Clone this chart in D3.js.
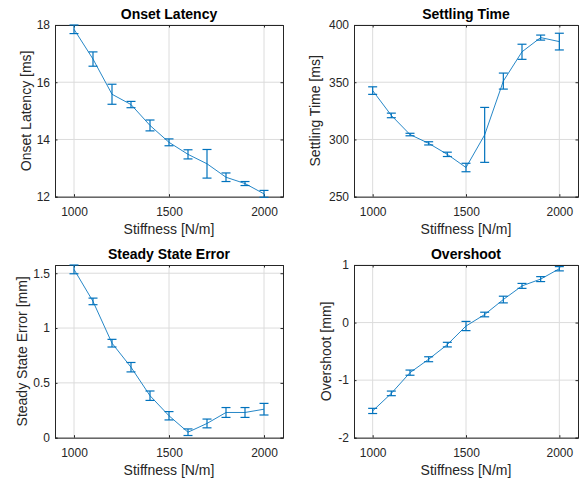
<!DOCTYPE html>
<html>
<head>
<meta charset="utf-8">
<script src="https://cdn.jsdelivr.net/npm/d3@7/dist/d3.min.js"></script>
<style>
  html, body { margin: 0; padding: 0; background: #fff; }
  svg { display: block; font-family: "Liberation Sans", Arial, sans-serif; }
</style>
</head>
<body>
<svg id="chart" width="583" height="484"></svg>
<script>
// Stiffness levels shared by all four panels
const stiffness = [1000, 1100, 1200, 1300, 1400, 1500, 1600, 1700, 1800, 1900, 2000];
const xTicks = [1000, 1500, 2000];

// Onset latency [ms]: mean and error half-width
const onsetLatency    = [17.85, 16.81, 15.58, 15.22, 14.49, 13.90, 13.48, 13.15, 12.68, 12.46, 12.10];
const onsetLatencyErr = [0.15, 0.25, 0.35, 0.11, 0.19, 0.12, 0.16, 0.50, 0.15, 0.07, 0.12];
const onsetTicks = [12, 14, 16, 18];

// Settling time [ms]
const settlingTime    = [342.7, 321.0, 304.3, 296.6, 287.0, 275.5, 304.0, 351.0, 376.6, 389.0, 385.5];
const settlingTimeErr = [3.3, 2.0, 1.1, 1.4, 1.9, 3.7, 24.0, 7.0, 6.6, 2.2, 7.3];
const settlingTicks = [250, 300, 350, 400];

// Steady state error [mm]
const steadyError    = [1.535, 1.243, 0.862, 0.643, 0.383, 0.200, 0.050, 0.130, 0.230, 0.230, 0.260];
const steadyErrorErr = [0.040, 0.030, 0.035, 0.043, 0.043, 0.038, 0.030, 0.040, 0.045, 0.045, 0.053];
const steadyTicks = [0, 0.5, 1, 1.5];

// Overshoot [mm]
const overshoot    = [-1.535, -1.230, -0.870, -0.637, -0.383, -0.060, 0.140, 0.400, 0.637, 0.755, 0.935];
const overshootErr = [0.045, 0.040, 0.045, 0.043, 0.040, 0.080, 0.040, 0.058, 0.043, 0.043, 0.037];
const overshootTicks = [-2, -1, 0, 1];

const panels = [
  { title: "Onset Latency", ylabel: "Onset Latency [ms]", y: onsetLatency, err: onsetLatencyErr,
    yDomain: [12, 18], yTicks: onsetTicks, box: [55, 25, 228, 171.7], ylabelGap: 24 },
  { title: "Settling Time", ylabel: "Settling Time [ms]", y: settlingTime, err: settlingTimeErr,
    yDomain: [250, 400], yTicks: settlingTicks, box: [354, 25, 224, 171.7], ylabelGap: 34 },
  { title: "Steady State Error", ylabel: "Steady State Error [mm]", y: steadyError, err: steadyErrorErr,
    yDomain: [0, 1.575], yTicks: steadyTicks, box: [55, 265, 228, 172.7], ylabelGap: 28 },
  { title: "Overshoot", ylabel: "Overshoot [mm]", y: overshoot, err: overshootErr,
    yDomain: [-2, 1], yTicks: overshootTicks, box: [354, 265, 224, 172.7], ylabelGap: 23 }
];

const ink = "#262626";
const blue = "#0072BD";
const svg = d3.select("#chart");

panels.forEach(p => {
  const [left, top, w, h] = p.box;
  const g = svg.append("g").attr("transform", `translate(${left},${top})`);
  const x = d3.scaleLinear().domain([900, 2100]).range([0, w]);
  const y = d3.scaleLinear().domain(p.yDomain).range([h, 0]);

  // grid
  g.append("g").selectAll("line.gx").data(xTicks).join("line")
    .attr("x1", d => x(d)).attr("x2", d => x(d)).attr("y1", 0).attr("y2", h)
    .attr("stroke", "#dcdcdc").attr("stroke-width", 1);
  g.append("g").selectAll("line.gy").data(p.yTicks).join("line")
    .attr("y1", d => y(d)).attr("y2", d => y(d)).attr("x1", 0).attr("x2", w)
    .attr("stroke", "#dcdcdc").attr("stroke-width", 1);

  // axes with inward ticks
  const tickLen = 2.5;
  const xAxis = g.append("g").attr("transform", `translate(0,${h})`)
    .call(d3.axisBottom(x).tickValues(xTicks).tickSize(-tickLen).tickPadding(11).tickFormat(d3.format("d")));
  const xTop = g.append("g")
    .call(d3.axisTop(x).tickValues(xTicks).tickSize(-tickLen).tickFormat(""));
  const fmt = v => String(v);
  const yAxis = g.append("g")
    .call(d3.axisLeft(y).tickValues(p.yTicks).tickSize(-tickLen).tickPadding(5).tickFormat(fmt));
  const yRight = g.append("g").attr("transform", `translate(${w},0)`)
    .call(d3.axisRight(y).tickValues(p.yTicks).tickSize(-tickLen).tickFormat(""));
  [xAxis, xTop, yAxis, yRight].forEach(a => {
    a.select(".domain").attr("stroke", ink).attr("stroke-width", 1);
    a.selectAll(".tick line").attr("stroke", ink);
    a.selectAll(".tick text").attr("fill", ink).style("font-size", "12px")
      .style("font-family", '"Liberation Sans", Arial, sans-serif');
  });

  // connecting line
  const pts = stiffness.map((s, i) => ({ s, v: p.y[i], e: p.err[i] }));
  g.append("path").datum(pts)
    .attr("d", d3.line().x(d => x(d.s)).y(d => y(d.v)))
    .attr("fill", "none").attr("stroke", blue).attr("stroke-width", 1).attr("opacity", 0.85);

  // error bars
  const cap = 4.5;
  const eb = g.append("g").attr("stroke", blue).attr("stroke-width", 1.2).attr("fill", "none");
  eb.selectAll("line.v").data(pts).join("line")
    .attr("x1", d => x(d.s)).attr("x2", d => x(d.s))
    .attr("y1", d => y(d.v - d.e)).attr("y2", d => y(d.v + d.e));
  eb.selectAll("line.t").data(pts).join("line")
    .attr("x1", d => x(d.s) - cap).attr("x2", d => x(d.s) + cap)
    .attr("y1", d => y(d.v + d.e)).attr("y2", d => y(d.v + d.e));
  eb.selectAll("line.b").data(pts).join("line")
    .attr("x1", d => x(d.s) - cap).attr("x2", d => x(d.s) + cap)
    .attr("y1", d => y(d.v - d.e)).attr("y2", d => y(d.v - d.e));

  // title and axis labels
  g.append("text").attr("x", w / 2).attr("y", -6).attr("text-anchor", "middle")
    .attr("fill", "#000").style("font-size", "14px").style("font-weight", "bold").text(p.title);
  g.append("text").attr("x", w / 2).attr("y", h + 37.5).attr("text-anchor", "middle")
    .attr("fill", ink).style("font-size", "14px").text("Stiffness [N/m]");
  g.append("text").attr("transform", `translate(${-p.ylabelGap},${h / 2}) rotate(-90)`)
    .attr("text-anchor", "middle").attr("fill", ink).style("font-size", "14px").text(p.ylabel);
});
</script>
</body>
</html>
